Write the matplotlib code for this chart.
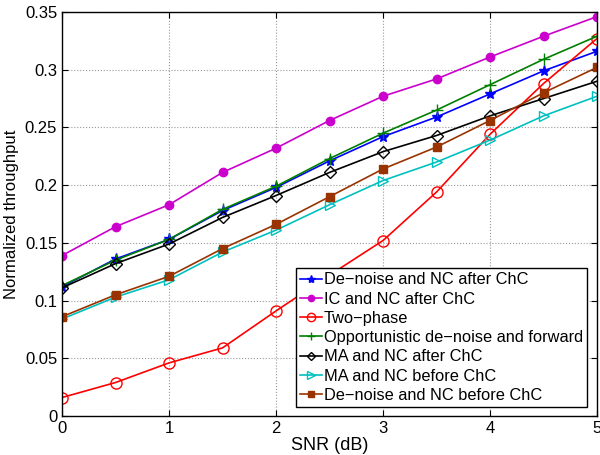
import matplotlib
matplotlib.use('Agg')
import matplotlib.pyplot as plt

snr = [0, 0.5, 1, 1.5, 2, 2.5, 3, 3.5, 4, 4.5, 5]

denoise_after = [0.112, 0.136, 0.153, 0.178, 0.198, 0.221, 0.242, 0.259, 0.279, 0.299, 0.316]
ic_after = [0.139, 0.164, 0.183, 0.211, 0.232, 0.256, 0.277, 0.292, 0.311, 0.329, 0.346]
two_phase = [0.016, 0.029, 0.046, 0.059, 0.091, 0.122, 0.152, 0.194, 0.244, 0.288, 0.327]
opportunistic = [0.113, 0.135, 0.153, 0.179, 0.199, 0.223, 0.245, 0.265, 0.287, 0.309, 0.329]
ma_after = [0.111, 0.132, 0.149, 0.172, 0.191, 0.211, 0.229, 0.243, 0.260, 0.275, 0.290]
ma_before = [0.084, 0.103, 0.118, 0.142, 0.161, 0.183, 0.204, 0.220, 0.239, 0.260, 0.277]
denoise_before = [0.086, 0.105, 0.121, 0.145, 0.166, 0.190, 0.214, 0.233, 0.256, 0.280, 0.302]

plt.rcParams['font.family'] = ['Liberation Sans', 'DejaVu Sans']
plt.rcParams['font.size'] = 11

fig = plt.figure(figsize=(6, 4.55), dpi=100)
ax = fig.add_axes([62 / 600, 1 - 416 / 455, 535 / 600, 404 / 455])

ax.plot(snr, denoise_after, color='#0000ff', marker='*', markersize=8, lw=1.2, label='De\u2212noise and NC after ChC')
ax.plot(snr, ic_after, color='#cc00cc', marker='o', markersize=6, lw=1.2, label='IC and NC after ChC')
ax.plot(snr, two_phase, color='#ff0000', marker='o', markersize=8, mfc='none', lw=1.2, label='Two\u2212phase')
ax.plot(snr, opportunistic, color='#008000', marker='+', markersize=8, lw=1.2, label='Opportunistic de\u2212noise and forward')
ax.plot(snr, ma_after, color='#000000', marker='D', markersize=6, mfc='none', lw=1.2, label='MA and NC after ChC')
ax.plot(snr, ma_before, color='#00c0c0', marker='>', markersize=7, mfc='none', lw=1.2, label='MA and NC before ChC')
ax.plot(snr, denoise_before, color='#993300', marker='s', markersize=6, lw=1.2, label='De\u2212noise and NC before ChC')

ax.set_xlim(0, 5)
ax.set_ylim(0, 0.35)
ax.set_xticks([0, 1, 2, 3, 4, 5])
ax.set_yticks([0, 0.05, 0.1, 0.15, 0.2, 0.25, 0.3, 0.35])
ax.set_yticklabels(['0', '0.05', '0.1', '0.15', '0.2', '0.25', '0.3', '0.35'])
ax.tick_params(direction='in', top=True, right=True, length=4, labelsize=12)
ax.grid(True, linestyle=':', color='#999999', linewidth=0.8)
for s in ax.spines.values():
    s.set_linewidth(1.0)

ax.set_xlabel('SNR (dB)', fontsize=13, labelpad=1)
ax.set_ylabel('Normalized throughput', fontsize=12, labelpad=4)

leg = ax.legend(loc='lower right', bbox_to_anchor=(0.981, 0.022), fontsize=11.8, frameon=True, fancybox=False,
                edgecolor='black', framealpha=1, borderpad=0.25, labelspacing=0.26, handlelength=1.35,
                handletextpad=0.1, borderaxespad=0, markerscale=0.75)
leg.get_frame().set_linewidth(1.0)

fig.savefig('out.png', dpi=100)
